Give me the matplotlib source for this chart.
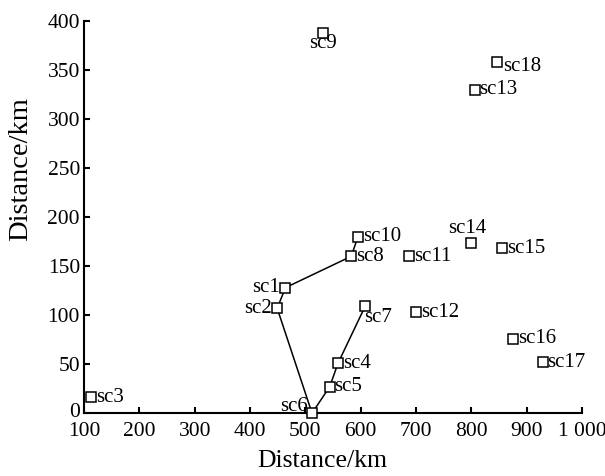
import matplotlib.pyplot as plt
from matplotlib.transforms import ScaledTranslation

# station coordinates (km)
names = ["sc1", "sc2", "sc3", "sc4", "sc5", "sc6", "sc7", "sc8", "sc9",
         "sc10", "sc11", "sc12", "sc13", "sc14", "sc15", "sc16", "sc17", "sc18"]
xs = [464, 449, 113, 559, 544, 512, 608, 583, 532,
      595, 687, 700, 806, 800, 855, 876, 929, 847]
ys = [128, 107, 16, 51, 27, 0, 109, 160, 388,
      180, 160, 103, 330, 174, 168, 76, 52, 358]

# route drawn as a polyline
route = ["sc10", "sc8", "sc1", "sc2", "sc6", "sc5", "sc4", "sc7"]

xticks = [100, 200, 300, 400, 500, 600, 700, 800, 900, 1000]
xticklabels = ["100", "200", "300", "400", "500", "600", "700", "800", "900", "1 000"]
yticks = [0, 50, 100, 150, 200, 250, 300, 350, 400]

# label offsets in points: (dx, dy, ha, va)
default_off = (3.5, 0, "left", "center")
offsets = {
    "sc1": (-4, 0, "right", "center"),
    "sc2": (-4, 0, "right", "center"),
    "sc6": (-3, 5, "right", "center"),
    "sc7": (-1, -8, "left", "center"),
    "sc9": (0, -8, "center", "center"),
    "sc14": (-3, 10, "center", "center"),
    "sc18": (4, -3, "left", "center"),
}

plt.rcParams["font.family"] = ["Liberation Serif", "DejaVu Serif"]

fig = plt.figure(figsize=(6.05, 4.76), dpi=100)
ax = fig.add_axes([0.139, 0.132, 0.823, 0.824])

idx = {n: i for i, n in enumerate(names)}
rx = [xs[idx[n]] for n in route]
ry = [ys[idx[n]] for n in route]
ax.plot(rx, ry, color="black", linewidth=1.1, zorder=2)

ax.plot(xs, ys, linestyle="none", marker="s", markersize=6.5,
        markerfacecolor="white", markeredgecolor="black", markeredgewidth=1.1,
        zorder=3, clip_on=False)

for n, x, y in zip(names, xs, ys):
    dx, dy, ha, va = offsets.get(n, default_off)
    ax.annotate(n, (x, y), xytext=(dx, dy), textcoords="offset points",
                ha=ha, va=va, fontsize=15)

ax.set_xlim(100, 1000)
ax.set_ylim(0, 400)
ax.set_xticks(xticks)
ax.set_xticklabels(xticklabels)
ax.set_yticks(yticks)
ax.tick_params(direction="in", length=4, width=1.5, labelsize=15.5)
ax.tick_params(axis="x", pad=6.5)
ax.tick_params(axis="y", pad=3)
ax.set_xlabel("Distance/km", fontsize=18.5)
ax.set_ylabel("Distance/km", fontsize=20.5)
ax.xaxis.set_label_coords(0.478, -0.095)
ax.yaxis.set_label_coords(-0.103, 0.622)

# nudge the "0" label up a little so it clears "100"
fig.canvas.draw()
zero = ax.get_yticklabels()[0]
zero.set_transform(zero.get_transform() + ScaledTranslation(0, 2.5 / 72, fig.dpi_scale_trans))

for side in ["top", "right"]:
    ax.spines[side].set_visible(False)
for side in ["left", "bottom"]:
    ax.spines[side].set_linewidth(1.5)

fig.savefig("out.png", dpi=100)
